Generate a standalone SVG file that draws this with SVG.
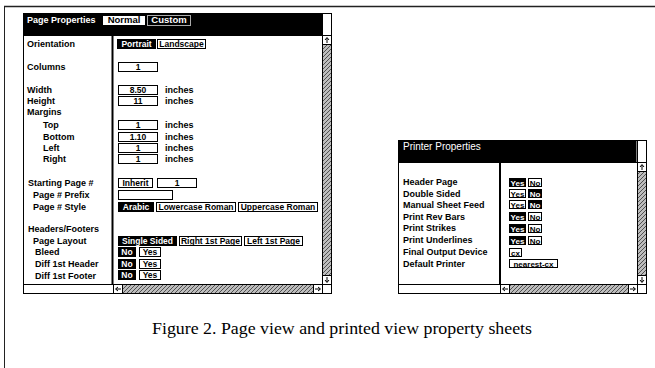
<svg xmlns="http://www.w3.org/2000/svg" width="655" height="368" viewBox="0 0 655 368">
<style>
.lbl{font-family:"Liberation Sans",Arial,sans-serif;font-weight:bold;font-size:9px;fill:#000}
.ttl{font-family:"Liberation Sans",Arial,sans-serif;font-weight:bold;font-size:9px;fill:#fff}
.bt{font-family:"Liberation Sans",Arial,sans-serif;font-weight:bold;font-size:8.5px;text-anchor:middle}
.bs{font-size:8px}
.bw{fill:#fff;stroke:#000;stroke-width:1}
.bb{fill:#000;stroke:#000;stroke-width:1}
.tw{fill:#fff}
.tb{fill:#000}
.frame{fill:#fff;stroke:#000;stroke-width:1}
.sb{fill:url(#stip);stroke:#000;stroke-width:1}
.box{fill:#fff;stroke:#000;stroke-width:1}
.arr{fill:none;stroke:#000;stroke-width:1}
.cap{font-family:"Liberation Serif","Times New Roman",serif;font-size:17px;fill:#000}
</style>
<defs>
<pattern id="stip" width="4" height="4" patternUnits="userSpaceOnUse">
<rect width="4" height="4" fill="#bdbdbd"/>
<path d="M0,4 L4,0 M-1,1 L1,-1 M3,5 L5,3" stroke="#444" stroke-width="0.9"/>
</pattern>
</defs>
<rect width="655" height="368" fill="#fff"/>
<g id="outer-frame">
<line x1="4" y1="6.5" x2="655" y2="6.5" stroke="#222" stroke-width="1.5"/>
<line x1="4.5" y1="6" x2="4.5" y2="368" stroke="#222" stroke-width="1"/>
</g>

<g id="page-properties-window">
<rect class="frame" x="23.5" y="13.5" width="308" height="280"/>
<rect x="23.5" y="13.5" width="299" height="22" fill="#000"/>
<rect class="box" x="322.5" y="13.5" width="9" height="22"/>
<text class="ttl" x="27" y="23">Page Properties</text>
<rect class="bw" x="102.5" y="15.5" width="43" height="10"/>
<text class="bt tb" x="124" y="23" style="font-size:9.5px">Normal</text>
<rect x="147.5" y="15.5" width="43" height="10" fill="#000" stroke="#aaa" stroke-width="1"/>
<text class="bt tw" x="169" y="23" style="font-size:9.5px">Custom</text>
<line x1="23" y1="35.5" x2="322" y2="35.5" stroke="#000"/>
<line x1="112.5" y1="35" x2="112.5" y2="284" stroke="#000" stroke-width="2"/>
<line x1="23" y1="284.5" x2="322" y2="284.5" stroke="#000"/>
<rect class="sb" x="322.5" y="35.5" width="9" height="249"/>
<rect class="box" x="322.5" y="35.5" width="9" height="9"/>
<path class="arr" d="M327,43 V38 M325,40 L327,37.5 L329,40"/>
<rect class="box" x="322.5" y="275.5" width="9" height="9"/>
<path class="arr" d="M327,277 V282 M325,280 L327,282.5 L329,280"/>
<rect class="sb" x="113.5" y="284.5" width="209" height="9"/>
<rect class="box" x="113.5" y="284.5" width="9" height="9"/>
<path class="arr" d="M121,289 H116 M118,287 L115.5,289 L118,291"/>
<rect class="box" x="313.5" y="284.5" width="9" height="9"/>
<path class="arr" d="M315,289 H320 M318,287 L320.5,289 L318,291"/>
<rect class="box" x="322.5" y="284.5" width="9" height="9"/>
</g>

<g id="page-labels">
<text class="lbl" x="27" y="47">Orientation</text>
<text class="lbl" x="27" y="70">Columns</text>
<text class="lbl" x="27" y="93">Width</text>
<text class="lbl" x="27" y="104">Height</text>
<text class="lbl" x="27" y="115">Margins</text>
<text class="lbl" x="43" y="128">Top</text>
<text class="lbl" x="43" y="139.5">Bottom</text>
<text class="lbl" x="43" y="150.5">Left</text>
<text class="lbl" x="43" y="162">Right</text>
<text class="lbl" x="28" y="186">Starting Page #</text>
<text class="lbl" x="33" y="198">Page # Prefix</text>
<text class="lbl" x="33" y="209.5">Page # Style</text>
<text class="lbl" x="28" y="231.5">Headers/Footers</text>
<text class="lbl" x="33" y="244">Page Layout</text>
<text class="lbl" x="35" y="255">Bleed</text>
<text class="lbl" x="35" y="267">Diff 1st Header</text>
<text class="lbl" x="35" y="278.5">Diff 1st Footer</text>
</g>

<g id="page-fields">
<rect class="bb" x="117.5" y="39.5" width="38" height="9"/><text class="bt tw" x="136.5" y="47">Portrait</text>
<rect class="bw" x="157.5" y="39.5" width="48" height="9"/><text class="bt tb" x="181.5" y="47">Landscape</text>

<rect class="bw" x="118.5" y="62.5" width="39" height="9"/><text class="bt tb" x="138" y="70">1</text>

<rect class="bw" x="118.5" y="85.5" width="39" height="9" stroke-width="1.5"/><text class="bt tb" x="138" y="93">8.50</text>
<text class="lbl" x="165" y="93">inches</text>
<rect class="bw" x="118.5" y="96.5" width="39" height="9"/><text class="bt tb" x="138" y="104">11</text>
<text class="lbl" x="165" y="104">inches</text>

<rect class="bw" x="118.5" y="120.5" width="39" height="9"/><text class="bt tb" x="138" y="128">1</text>
<text class="lbl" x="165" y="128">inches</text>
<rect class="bw" x="118.5" y="132.5" width="39" height="9"/><text class="bt tb" x="138" y="140">1.10</text>
<text class="lbl" x="165" y="139.5">inches</text>
<rect class="bw" x="118.5" y="143.5" width="39" height="9"/><text class="bt tb" x="138" y="151">1</text>
<text class="lbl" x="165" y="150.5">inches</text>
<rect class="bw" x="118.5" y="154.5" width="39" height="9"/><text class="bt tb" x="138" y="162">1</text>
<text class="lbl" x="165" y="162">inches</text>

<rect class="bw" x="118.5" y="178.5" width="34" height="9"/><text class="bt tb" x="135.5" y="186">Inherit</text>
<rect class="bw" x="157.5" y="178.5" width="39" height="9"/><text class="bt tb" x="177" y="186">1</text>
<rect class="bw" x="118.5" y="190.5" width="54" height="9"/>

<rect class="bb" x="118.5" y="202.5" width="35" height="9"/><text class="bt tw" x="136" y="210">Arabic</text>
<rect class="bw" x="156.5" y="202.5" width="79" height="9"/><text class="bt tb" x="196" y="210">Lowercase Roman</text>
<rect class="bw" x="238.5" y="202.5" width="79" height="9"/><text class="bt tb" x="278" y="210">Uppercase Roman</text>

<rect class="bb" x="118.5" y="236.5" width="58" height="9"/><text class="bt tw" x="147.5" y="244">Single Sided</text>
<rect class="bw" x="179.5" y="236.5" width="62" height="9"/><text class="bt tb" x="210.5" y="244">Right 1st Page</text>
<rect class="bw" x="244.5" y="236.5" width="58" height="9"/><text class="bt tb" x="273.5" y="244">Left 1st Page</text>

<rect class="bb" x="118.5" y="247.5" width="17" height="9"/><text class="bt tw" x="127" y="255">No</text>
<rect class="bw" x="139.5" y="247.5" width="21" height="9"/><text class="bt tb" x="150" y="255">Yes</text>
<rect class="bb" x="118.5" y="259.5" width="17" height="9"/><text class="bt tw" x="127" y="267">No</text>
<rect class="bw" x="139.5" y="259.5" width="21" height="9"/><text class="bt tb" x="150" y="267">Yes</text>
<rect class="bb" x="118.5" y="270.5" width="17" height="9"/><text class="bt tw" x="127" y="278">No</text>
<rect class="bw" x="139.5" y="270.5" width="21" height="9"/><text class="bt tb" x="150" y="278">Yes</text>
</g>

<g id="printer-properties-window">
<rect class="frame" x="398.5" y="140.5" width="248" height="153"/>
<rect x="398.5" y="140.5" width="238" height="22" fill="#000"/>
<rect class="box" x="637.5" y="140.5" width="9" height="22"/>
<text x="403" y="150" style="font-family:'Liberation Sans',Arial,sans-serif;font-size:10px;fill:#fff">Printer Properties</text>
<line x1="398" y1="162.5" x2="637" y2="162.5" stroke="#000"/>
<line x1="500" y1="162" x2="500" y2="284" stroke="#000" stroke-width="2"/>
<line x1="398" y1="284.5" x2="637" y2="284.5" stroke="#000"/>
<rect class="sb" x="637.5" y="162.5" width="9" height="122"/>
<rect class="box" x="637.5" y="162.5" width="9" height="9"/>
<path class="arr" d="M642,170 V165 M640,167 L642,164.5 L644,167"/>
<rect class="box" x="637.5" y="275.5" width="9" height="9"/>
<path class="arr" d="M642,277 V282 M640,280 L642,282.5 L644,280"/>
<rect class="sb" x="500.5" y="284.5" width="137" height="9"/>
<rect class="box" x="500.5" y="284.5" width="9" height="9"/>
<path class="arr" d="M508,289 H503 M505,287 L502.5,289 L505,291"/>
<rect class="box" x="628.5" y="284.5" width="9" height="9"/>
<path class="arr" d="M630,289 H635 M633,287 L635.5,289 L633,291"/>
<rect class="box" x="637.5" y="284.5" width="9" height="9"/>
</g>

<g id="printer-labels">
<text class="lbl" x="403" y="185">Header Page</text>
<text class="lbl" x="403" y="196.5">Double Sided</text>
<text class="lbl" x="403" y="208">Manual Sheet Feed</text>
<text class="lbl" x="403" y="219.5">Print Rev Bars</text>
<text class="lbl" x="403" y="231">Print Strikes</text>
<text class="lbl" x="403" y="243">Print Underlines</text>
<text class="lbl" x="403" y="255">Final Output Device</text>
<text class="lbl" x="403" y="266.5">Default Printer</text>
</g>

<g id="printer-fields">
<rect class="bb" x="509.5" y="178.5" width="16" height="8"/><text class="bt bs tw" x="517.5" y="185.5">Yes</text>
<rect class="bw" x="528.5" y="178.5" width="13" height="8" stroke-width="1.5"/><text class="bt bs tb" x="535" y="185.5">No</text>
<rect class="bw" x="509.5" y="189.5" width="16" height="8" stroke-width="1.5"/><text class="bt bs tb" x="517.5" y="196.5">Yes</text>
<rect class="bb" x="528.5" y="189.5" width="13" height="8"/><text class="bt bs tw" x="535" y="196.5">No</text>
<rect class="bw" x="509.5" y="200.5" width="16" height="8" stroke-width="1.5"/><text class="bt bs tb" x="517.5" y="207.5">Yes</text>
<rect class="bb" x="528.5" y="200.5" width="13" height="8"/><text class="bt bs tw" x="535" y="207.5">No</text>
<rect class="bb" x="509.5" y="212.5" width="16" height="8"/><text class="bt bs tw" x="517.5" y="219.5">Yes</text>
<rect class="bw" x="528.5" y="212.5" width="13" height="8"/><text class="bt bs tb" x="535" y="219.5">No</text>
<rect class="bb" x="509.5" y="224.5" width="16" height="8"/><text class="bt bs tw" x="517.5" y="231.5">Yes</text>
<rect class="bw" x="528.5" y="224.5" width="13" height="8"/><text class="bt bs tb" x="535" y="231.5">No</text>
<rect class="bb" x="509.5" y="236.5" width="16" height="8"/><text class="bt bs tw" x="517.5" y="243.5">Yes</text>
<rect class="bw" x="528.5" y="236.5" width="13" height="8"/><text class="bt bs tb" x="535" y="243.5">No</text>
<rect class="bw" x="509.5" y="248.5" width="12" height="8"/><text class="bt bs tb" x="515.5" y="255.5">cx</text>
<rect class="bw" x="509.5" y="259.5" width="48" height="8"/><text class="bt bs tb" x="533.5" y="266.5">nearest-cx</text>
</g>

<text class="cap" x="152" y="334" textLength="380" lengthAdjust="spacingAndGlyphs">Figure 2. Page view and printed view property sheets</text>
</svg>
